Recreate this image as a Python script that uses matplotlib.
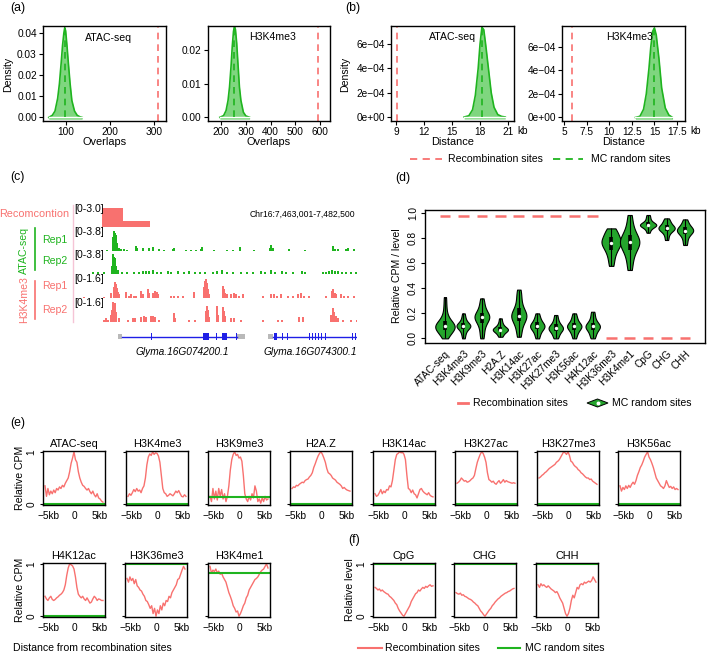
import numpy as np
import matplotlib
matplotlib.use('Agg')
import matplotlib.pyplot as plt
from matplotlib.lines import Line2D
from matplotlib.patches import Polygon, Rectangle

plt.rcParams['font.family'] = ['Liberation Sans', 'DejaVu Sans']
plt.rcParams['font.size'] = 7.6
plt.rcParams['axes.linewidth'] = 1.0

W, H = 709, 656
RED = '#f8716f'
GREEN = '#1fb41f'
LIGHT_GREEN = '#7fd67f'
VIOLIN_GREEN = '#24a52c'
PINK_LINE = '#f5c4d6'
GENE_BLUE = '#1f1fe6'
UTR_GREY = '#b9b9b9'
TXT = 7.6
TICK = 7.3

# ---------------- (a) overlap densities ----------------
a_atac_x = [62, 70, 76, 82, 86, 90, 93, 96, 98, 100, 103, 106, 110, 114, 120, 126, 132, 137]
a_atac_d = [0.0, 0.001, 0.003, 0.009, 0.016, 0.026, 0.034, 0.040, 0.0425, 0.041, 0.034,
            0.026, 0.016, 0.008, 0.003, 0.001, 0.0003, 0.0]
a_atac_mean, a_atac_rec = 98, 307
a_k4_x = [195, 210, 220, 228, 234, 240, 245, 250, 254, 258, 263, 268, 274, 280, 290, 300, 315]
a_k4_d = [0.0, 0.0005, 0.002, 0.005, 0.009, 0.015, 0.021, 0.0255, 0.027, 0.026, 0.022,
          0.016, 0.009, 0.005, 0.0015, 0.0004, 0.0]
a_k4_mean, a_k4_rec = 254, 590

# ---------------- (b) distance densities (kb) ----------------
b_atac_x = [16.3, 16.8, 17.2, 17.5, 17.8, 18.0, 18.2, 18.4, 18.6, 18.9, 19.2, 19.5, 19.9, 20.3, 20.7]
b_atac_d = [0.0, 0.1e-4, 0.6e-4, 1.8e-4, 4.0e-4, 6.0e-4, 7.4e-4, 7.2e-4, 6.0e-4, 4.0e-4,
            2.0e-4, 0.8e-4, 0.2e-4, 0.05e-4, 0.0]
b_atac_mean, b_atac_rec = 18.2, 9.07
b_k4_x = [12.9, 13.4, 13.8, 14.1, 14.4, 14.6, 14.8, 15.0, 15.2, 15.5, 15.8, 16.2, 16.6, 17.0]
b_k4_d = [0.0, 0.1e-4, 0.7e-4, 2.0e-4, 4.2e-4, 6.0e-4, 7.3e-4, 7.6e-4, 7.0e-4, 5.0e-4,
          2.5e-4, 0.8e-4, 0.2e-4, 0.0]
b_k4_mean, b_k4_rec = 14.9, 5.9

# ---------------- (c) genome browser (bins of 19500/284 bp) ----------------
BIN_KB = 19.5 / 284
recomb_start = [29, 50]
recomb_end = [50, 77]
recomb_val = [3.0, 0.95]
atac1_bins = [33, 39, 40, 41, 42, 43, 45, 47, 50, 53, 62, 63, 69, 75, 79, 85, 90, 99, 100, 112,
              117, 122, 127, 128, 140, 153, 159, 166, 180, 196, 197, 199, 215, 231, 259, 261,
              264, 272, 274, 280]
atac1_vals = [0.2, 2.6, 3.8, 3.4, 3.0, 1.5, 0.6, 0.3, 0.3, 0.2, 0.9, 0.5, 0.6, 0.5, 0.7, 0.3,
              0.2, 0.3, 0.6, 0.2, 0.2, 0.2, 0.3, 0.7, 0.2, 0.2, 0.2, 0.7, 0.2, 0.6, 1.1, 0.6,
              0.3, 0.2, 0.9, 0.4, 0.3, 0.3, 0.5, 0.3]
atac2_bins = [19, 24, 30, 38, 39, 40, 41, 42, 44, 48, 53, 60, 65, 69, 72, 75, 79, 83, 87, 94,
              97, 104, 110, 115, 121, 126, 131, 139, 143, 148, 153, 159, 167, 173, 179, 187,
              191, 197, 201, 208, 212, 219, 228, 231, 249, 252, 255, 258, 261, 264, 268, 272,
              277, 282]
atac2_vals = [0.2, 0.2, 0.2, 1.5, 3.8, 3.2, 3.0, 1.5, 0.6, 0.3, 0.2, 0.2, 0.3, 0.5, 0.4, 0.5,
              0.6, 0.3, 0.2, 0.4, 0.3, 0.4, 0.2, 0.4, 0.3, 0.3, 0.2, 0.2, 0.4, 0.7, 0.3, 0.2,
              0.3, 0.3, 0.2, 0.4, 0.2, 0.6, 0.3, 0.5, 0.2, 0.2, 0.4, 0.2, 0.3, 0.3, 0.4, 0.6,
              0.5, 0.4, 0.3, 0.3, 0.2, 0.2]
k4r1_bins = [10, 30, 37, 40, 41, 42, 43, 44, 45, 52, 55, 57, 60, 62, 67, 69, 74, 75, 79, 81,
             83, 84, 97, 100, 104, 109, 120, 130, 131, 132, 133, 134, 135, 149, 150, 151, 153,
             157, 160, 162, 165, 169, 189, 197, 200, 203, 207, 214, 219, 224, 227, 230, 235,
             252, 258, 259, 261, 262, 267, 270, 274, 280, 284]
k4r1_vals = [0.1, 0.1, 0.4, 0.9, 1.3, 1.1, 0.8, 0.5, 0.3, 0.5, 0.2, 0.3, 0.2, 0.2, 0.6, 0.3,
             0.7, 0.4, 0.4, 0.6, 0.5, 0.3, 0.2, 0.2, 0.2, 0.2, 0.5, 0.9, 1.4, 1.5, 1.2, 0.7,
             0.3, 1.0, 0.7, 0.4, 0.3, 0.3, 0.4, 0.3, 0.2, 0.3, 0.2, 0.3, 0.3, 0.2, 0.3, 0.2,
             0.2, 0.3, 0.4, 0.2, 0.2, 0.2, 0.6, 0.7, 0.4, 0.3, 0.3, 0.2, 0.2, 0.2, 0.2]
k4r2_bins = [30, 32, 34, 37, 38, 39, 40, 41, 42, 45, 54, 59, 61, 67, 70, 72, 77, 79, 81, 85,
             100, 101, 115, 121, 132, 133, 134, 135, 143, 144, 149, 150, 151, 157, 160, 167,
             189, 204, 208, 225, 229, 257, 259, 260, 262, 264, 269, 277, 283]
k4r2_vals = [0.2, 0.3, 0.2, 0.6, 1.0, 1.6, 1.2, 1.5, 0.8, 0.3, 0.2, 0.3, 0.3, 0.4, 0.5, 0.4,
             0.5, 0.5, 0.4, 0.2, 0.7, 0.3, 0.2, 0.2, 0.9, 1.3, 1.0, 0.4, 1.3, 0.6, 1.2, 0.9,
             0.5, 0.3, 0.3, 0.2, 0.2, 0.2, 0.2, 0.4, 0.4, 0.6, 1.1, 0.8, 0.5, 0.3, 0.2, 0.2,
             0.2]
# gene models: (start_bin, end_bin)
gene1_utr = [(45, 49), (164, 172)]
gene1_line = (49, 164)
gene1_exons = [(77.5, 78.5), (130, 136), (142.5, 143.5), (149, 154), (162.5, 163.5)]
gene2_utr = [(195, 200)]
gene2_line = (200, 284)
gene2_exons = [(201, 204), (208.5, 209.5), (213.5, 214.5), (235.5, 236.5), (238.5, 239.5),
               (241.5, 242.5), (244.5, 245.5), (247.5, 248.5), (251.5, 252.5), (278.5, 279.5),
               (281.5, 282.5)]

# ---------------- (d) violins ----------------
marks = ['ATAC-seq', 'H3K4me3', 'H3K9me3', 'H2A.Z', 'H3K14ac', 'H3K27ac', 'H3K27me3',
         'H3K56ac', 'H4K12ac', 'H3K36me3', 'H3K4me1', 'CpG', 'CHG', 'CHH']
recomb_level = [0.975, 0.975, 0.975, 0.975, 0.975, 0.975, 0.975, 0.975, 0.975,
                0.0, 0.0, 0.0, 0.0, 0.0]
mc_samples = [
    [0.0, 0.02, 0.04, 0.05, 0.06, 0.07, 0.08, 0.085, 0.09, 0.095, 0.1, 0.105, 0.11, 0.12, 0.13, 0.14, 0.16, 0.18, 0.22, 0.27, 0.33],
    [0.0, 0.03, 0.05, 0.07, 0.08, 0.09, 0.095, 0.1, 0.1, 0.105, 0.11, 0.12, 0.13, 0.15, 0.17, 0.2],
    [0.0, 0.04, 0.08, 0.11, 0.13, 0.15, 0.16, 0.17, 0.17, 0.18, 0.19, 0.2, 0.22, 0.25, 0.28, 0.32],
    [0.013, 0.03, 0.045, 0.055, 0.062, 0.068, 0.07, 0.072, 0.078, 0.085, 0.095, 0.11, 0.13, 0.16],
    [0.013, 0.05, 0.09, 0.12, 0.14, 0.16, 0.17, 0.18, 0.18, 0.19, 0.2, 0.22, 0.24, 0.27, 0.31, 0.35, 0.39],
    [0.0, 0.03, 0.05, 0.07, 0.08, 0.09, 0.095, 0.1, 0.11, 0.12, 0.13, 0.15, 0.17, 0.2],
    [0.0, 0.02, 0.04, 0.055, 0.065, 0.075, 0.08, 0.085, 0.09, 0.1, 0.115, 0.13, 0.155, 0.187],
    [0.0, 0.03, 0.05, 0.065, 0.08, 0.09, 0.095, 0.1, 0.105, 0.115, 0.13, 0.15, 0.17, 0.2],
    [0.0, 0.025, 0.045, 0.065, 0.078, 0.088, 0.093, 0.098, 0.105, 0.115, 0.13, 0.15, 0.18, 0.213],
    [0.58, 0.63, 0.67, 0.7, 0.72, 0.74, 0.755, 0.765, 0.775, 0.785, 0.8, 0.82, 0.84, 0.86, 0.88],
    [0.547, 0.61, 0.66, 0.7, 0.72, 0.745, 0.76, 0.768, 0.78, 0.795, 0.81, 0.84, 0.87, 0.92, 0.987],
    [0.845, 0.87, 0.885, 0.895, 0.9, 0.905, 0.907, 0.91, 0.915, 0.92, 0.93, 0.945, 0.965, 0.987],
    [0.787, 0.82, 0.845, 0.86, 0.87, 0.875, 0.88, 0.885, 0.89, 0.9, 0.91, 0.925, 0.94, 0.96],
    [0.747, 0.78, 0.81, 0.83, 0.845, 0.852, 0.859, 0.865, 0.872, 0.88, 0.89, 0.905, 0.925, 0.952],
]
violin_widths = [1.05, 0.75, 0.8, 0.82, 0.82, 0.78, 0.78, 0.78, 0.78, 1.05, 1.05, 0.88, 0.88, 0.88]

# ---------------- (e)/(f) profiles around sites ----------------
profiles = {
    'ATAC-seq': [0.35, 0.15, 0.3, 0.18, 0.25, 0.2, 0.27, 0.22, 0.3, 0.27, 0.33, 0.3, 0.36, 0.33, 0.4, 0.45, 0.5, 0.62, 0.78, 0.88, 1.0, 0.85, 0.8, 0.62, 0.5, 0.42, 0.36, 0.34, 0.3, 0.27, 0.3, 0.24, 0.2, 0.25, 0.18, 0.14, 0.2, 0.12, 0.1, 0.06, 0.04],
    'H3K4me3': [0.15, 0.2, 0.17, 0.22, 0.28, 0.24, 0.3, 0.25, 0.27, 0.22, 0.3, 0.35, 0.5, 0.75, 0.9, 0.96, 0.93, 1.0, 0.95, 0.98, 0.97, 0.92, 0.8, 0.55, 0.3, 0.22, 0.2, 0.15, 0.17, 0.2, 0.18, 0.16, 0.2, 0.25, 0.22, 0.26, 0.2, 0.15, 0.14, 0.18, 0.15],
    'H3K9me3': [0.15, 0.05, 0.3, 0.1, 0.25, 0.08, 0.3, 0.15, 0.28, 0.1, 0.2, 0.05, 0.15, 0.35, 0.65, 0.85, 0.95, 1.0, 0.93, 0.95, 0.88, 0.9, 0.82, 0.55, 0.2, 0.1, 0.05, 0.15, 0.08, 0.2, 0.12, 0.35, 0.25, 0.05, 0.1, 0.02, 0.12, 0.05, 0.15, 0.08, 0.1],
    'H2A.Z': [0.3, 0.33, 0.32, 0.36, 0.35, 0.38, 0.4, 0.42, 0.41, 0.45, 0.47, 0.48, 0.52, 0.55, 0.6, 0.7, 0.77, 0.85, 0.92, 0.97, 1.0, 0.95, 0.88, 0.8, 0.68, 0.6, 0.58, 0.55, 0.5, 0.48, 0.46, 0.42, 0.4, 0.38, 0.35, 0.3, 0.32, 0.29, 0.27, 0.26, 0.25],
    'H3K14ac': [0.2, 0.15, 0.17, 0.22, 0.28, 0.2, 0.25, 0.22, 0.28, 0.27, 0.35, 0.33, 0.45, 0.65, 0.85, 0.95, 0.97, 1.0, 0.98, 0.99, 0.95, 0.85, 0.55, 0.3, 0.28, 0.22, 0.27, 0.2, 0.18, 0.12, 0.2, 0.28, 0.3, 0.25, 0.22, 0.2, 0.18, 0.22, 0.17, 0.15, 0.14],
    'H3K27ac': [0.4, 0.42, 0.45, 0.5, 0.47, 0.44, 0.45, 0.42, 0.43, 0.45, 0.48, 0.5, 0.55, 0.68, 0.8, 0.88, 0.95, 1.0, 0.97, 0.9, 0.8, 0.6, 0.47, 0.45, 0.42, 0.44, 0.4, 0.38, 0.42, 0.45, 0.4, 0.43, 0.47, 0.42, 0.45, 0.43, 0.42, 0.41, 0.4, 0.41, 0.4],
    'H3K27me3': [0.5, 0.52, 0.55, 0.57, 0.6, 0.62, 0.65, 0.68, 0.7, 0.72, 0.74, 0.76, 0.8, 0.82, 0.85, 0.9, 0.95, 1.0, 0.98, 0.95, 1.0, 0.93, 0.82, 0.8, 0.75, 0.72, 0.7, 0.66, 0.64, 0.6, 0.58, 0.55, 0.52, 0.5, 0.5, 0.47, 0.48, 0.44, 0.42, 0.4, 0.38],
    'H3K56ac': [0.35, 0.25, 0.32, 0.28, 0.35, 0.3, 0.36, 0.32, 0.38, 0.42, 0.38, 0.45, 0.55, 0.62, 0.7, 0.75, 0.82, 0.9, 0.95, 1.0, 0.9, 0.85, 0.78, 0.7, 0.6, 0.5, 0.45, 0.4, 0.35, 0.33, 0.3, 0.35, 0.45, 0.38, 0.32, 0.34, 0.3, 0.33, 0.28, 0.3, 0.28],
    'H4K12ac': [0.38, 0.33, 0.3, 0.35, 0.38, 0.32, 0.3, 0.32, 0.35, 0.37, 0.4, 0.42, 0.45, 0.5, 0.6, 0.78, 0.92, 1.0, 0.98, 0.96, 0.9, 0.75, 0.55, 0.42, 0.38, 0.35, 0.38, 0.33, 0.3, 0.35, 0.3, 0.25, 0.27, 0.33, 0.38, 0.35, 0.3, 0.33, 0.32, 0.3, 0.3],
    'H3K36me3': [0.72, 0.65, 0.75, 0.68, 0.72, 0.62, 0.7, 0.58, 0.55, 0.5, 0.48, 0.42, 0.38, 0.3, 0.28, 0.22, 0.15, 0.2, 0.05, 0.15, 0.0, 0.12, 0.05, 0.2, 0.12, 0.25, 0.2, 0.3, 0.28, 0.38, 0.35, 0.45, 0.5, 0.55, 0.6, 0.7, 0.72, 0.8, 0.88, 0.95, 0.9],
    'H3K4me1': [0.95, 0.82, 0.88, 0.85, 0.9, 0.83, 0.86, 0.8, 0.82, 0.75, 0.7, 0.65, 0.55, 0.45, 0.38, 0.3, 0.2, 0.15, 0.08, 0.1, 0.0, 0.05, 0.12, 0.2, 0.25, 0.35, 0.4, 0.5, 0.55, 0.6, 0.65, 0.7, 0.72, 0.75, 0.8, 0.85, 0.88, 0.9, 0.95, 1.0, 0.92],
    'CpG': [0.55, 0.53, 0.5, 0.52, 0.48, 0.5, 0.47, 0.45, 0.43, 0.42, 0.38, 0.36, 0.33, 0.3, 0.25, 0.22, 0.15, 0.1, 0.06, 0.02, 0.0, 0.05, 0.1, 0.15, 0.2, 0.28, 0.33, 0.38, 0.43, 0.45, 0.5, 0.48, 0.52, 0.55, 0.53, 0.57, 0.55, 0.58, 0.6, 0.57, 0.58],
    'CHG': [0.45, 0.43, 0.42, 0.44, 0.4, 0.41, 0.38, 0.37, 0.35, 0.33, 0.32, 0.3, 0.27, 0.25, 0.22, 0.2, 0.15, 0.1, 0.07, 0.03, 0.0, 0.04, 0.08, 0.12, 0.15, 0.2, 0.23, 0.27, 0.3, 0.33, 0.35, 0.38, 0.4, 0.42, 0.44, 0.45, 0.47, 0.48, 0.5, 0.52, 0.53],
    'CHH': [0.6, 0.55, 0.62, 0.58, 0.6, 0.57, 0.55, 0.58, 0.55, 0.52, 0.5, 0.48, 0.45, 0.47, 0.42, 0.35, 0.3, 0.25, 0.15, 0.05, 0.0, 0.05, 0.15, 0.3, 0.4, 0.35, 0.45, 0.55, 0.52, 0.6, 0.62, 0.6, 0.65, 0.63, 0.65, 0.67, 0.65, 0.68, 0.75, 0.7, 0.65],
}
random_level = {'ATAC-seq': 0.0, 'H3K4me3': 0.0, 'H3K9me3': 0.13, 'H2A.Z': 0.0, 'H3K14ac': 0.0,
                'H3K27ac': 0.0, 'H3K27me3': 0.0, 'H3K56ac': 0.0, 'H4K12ac': 0.0,
                'H3K36me3': 0.99, 'H3K4me1': 0.82, 'CpG': 1.0, 'CHG': 1.0, 'CHH': 1.0}
row1 = ['ATAC-seq', 'H3K4me3', 'H3K9me3', 'H2A.Z', 'H3K14ac', 'H3K27ac', 'H3K27me3', 'H3K56ac']
row2 = ['H4K12ac', 'H3K36me3', 'H3K4me1']
row_f = ['CpG', 'CHG', 'CHH']


fig = plt.figure(figsize=(W / 100, H / 100), dpi=100)


def px_axes(l, t, r, b):
    return fig.add_axes([l / W, 1 - b / H, (r - l) / W, (b - t) / H])


def ftext(x, y, s, **kw):
    kw.setdefault('va', 'center')
    kw.setdefault('fontsize', TXT)
    return fig.text(x / W, 1 - y / H, s, **kw)


def fline(x0, x1, y0, y1, **kw):
    fig.add_artist(Line2D([x0 / W, x1 / W], [1 - y0 / H, 1 - y1 / H], **kw))


def density_panel(ax, x, d, mean, rec, xlim, ylim, xticks, xlabels, yticks, ylabels):
    ax.fill_between(x, d, ylim[0] * 0.5, color=LIGHT_GREEN, lw=0)
    ax.plot(x, d, color=GREEN, lw=1.2)
    ax.plot([x[0] + 1e-9, x[-1]], [0, 0], color='white', lw=1.0)
    ax.plot([mean, mean], [0, max(d)], color=GREEN, lw=1.2, ls=(0, (4, 3)))
    ax.axvline(rec, color=RED, lw=1.2, ls=(0, (4, 3)))
    ax.set_xlim(xlim)
    ax.set_ylim(ylim)
    ax.set_xticks(xticks)
    ax.set_xticklabels(xlabels)
    ax.set_yticks(yticks)
    ax.set_yticklabels(ylabels)
    ax.tick_params(length=3, width=0.8, pad=1.5, labelsize=TICK)


# (a)
ftext(10, 8, '(a)', fontsize=8.8)
ax = px_axes(43, 26, 166, 121)
density_panel(ax, a_atac_x, a_atac_d, a_atac_mean, a_atac_rec, (49, 326), (-0.0017, 0.0433),
              [100, 200, 300], ['100', '200', '300'], [0, 0.01, 0.02, 0.03, 0.04],
              ['0.00', '0.01', '0.02', '0.03', '0.04'])
ax.set_xlabel('Overlaps', fontsize=TXT + 0.3, labelpad=0)
ftext(108, 38, 'ATAC-seq', ha='center')
ax = px_axes(208, 26, 330, 121)
density_panel(ax, a_k4_x, a_k4_d, a_k4_mean, a_k4_rec, (147, 640), (-0.0011, 0.0271),
              [200, 300, 400, 500, 600], ['200', '300', '400', '500', '600'], [0, 0.01, 0.02],
              ['0.00', '0.01', '0.02'])
ax.set_xlabel('Overlaps', fontsize=TXT + 0.3, labelpad=0)
ftext(273, 37, 'H3K4me3', ha='center')
ftext(8, 74, 'Density', rotation=90, ha='center')

# (b)
ftext(345, 8, '(b)', fontsize=8.8)
b_yt = [0, 2e-4, 4e-4, 6e-4]
b_yl = ['0e+00', '2e\u221204', '4e\u221204', '6e\u221204']
ax = px_axes(391, 26, 514, 121)
density_panel(ax, b_atac_x, b_atac_d, b_atac_mean, b_atac_rec, (8.46, 21.64), (-0.33e-4, 7.5e-4),
              [9, 12, 15, 18, 21], ['9', '12', '15', '18', '21'], b_yt, b_yl)
ax.set_xlabel('Distance', fontsize=TXT + 0.3, labelpad=0)
ftext(452, 37, 'ATAC-seq', ha='center')
ftext(517, 131, 'kb', fontsize=TICK)
ax = px_axes(562, 26, 685, 121)
density_panel(ax, b_k4_x, b_k4_d, b_k4_mean, b_k4_rec, (4.78, 18.38), (-0.3e-4, 7.76e-4),
              [5, 7.5, 10, 12.5, 15, 17.5], ['5', '7.5', '10', '12.5', '15', '17.5'], b_yt, b_yl)
ax.set_xlabel('Distance', fontsize=TXT + 0.3, labelpad=0)
ftext(630, 37, 'H3K4me3', ha='center')
ftext(690, 131, 'kb', fontsize=TICK)
ftext(345, 74, 'Density', rotation=90, ha='center')
fline(410, 442, 159, 159, color=RED, lw=1.3, ls=(0, (4, 3)))
ftext(448, 159, 'Recombination sites')
fline(553, 583, 159, 159, color=GREEN, lw=1.3, ls=(0, (4, 3)))
ftext(591, 159, 'MC random sites')

# (c)
ftext(10, 177, '(c)', fontsize=8.8)
TRK_L, TRK_R = 73, 357
track_specs = [
    (208, 227, 3.0, '[0-3.0]', None, None, RED),
    (231, 251, 3.8, '[0-3.8]', atac1_bins, atac1_vals, GREEN),
    (254, 273.5, 3.8, '[0-3.8]', atac2_bins, atac2_vals, GREEN),
    (278, 298, 1.6, '[0-1.6]', k4r1_bins, k4r1_vals, RED),
    (302, 322, 1.6, '[0-1.6]', k4r2_bins, k4r2_vals, RED),
]
for top, bot, ymax, lab, bins, vals, col in track_specs:
    ax = px_axes(TRK_L, top, TRK_R, bot)
    if bins is None:
        for s, e, v in zip(recomb_start, recomb_end, recomb_val):
            ax.add_patch(Rectangle((s * BIN_KB, 0), (e - s) * BIN_KB, v, color=col, lw=0))
    else:
        ax.bar(np.array(bins) * BIN_KB, vals, width=1.6 * BIN_KB, align='edge', color=col, lw=0)
    ax.set_xlim(0, 284 * BIN_KB)
    ax.set_ylim(0, ymax)
    ax.axis('off')
    ftext(74, top + 1, lab)
fline(73, 73, 205, 322, color=PINK_LINE, lw=1)
ftext(69, 214, 'Recomcontion', ha='right', color=RED, fontsize=7.8)
ftext(250, 214, 'Chr16:7,463,001-7,482,500', fontsize=6.2)
ftext(24, 250, 'ATAC-seq', rotation=90, ha='center', color=GREEN)
fline(35, 35, 228, 270, color=GREEN, lw=1.2)
ftext(42, 240, 'Rep1', color=GREEN)
ftext(42, 261, 'Rep2', color=GREEN)
ftext(24, 300, 'H3K4me3', rotation=90, ha='center', color=RED)
fline(35, 35, 281, 319, color=RED, lw=1.2)
ftext(42, 286, 'Rep1', color=RED)
ftext(42, 310, 'Rep2', color=RED)

ax = px_axes(TRK_L, 328, TRK_R, 345)
for line, utrs, exons in [(gene1_line, gene1_utr, gene1_exons), (gene2_line, gene2_utr, gene2_exons)]:
    ax.plot([line[0] * BIN_KB, line[1] * BIN_KB], [0, 0], color=GENE_BLUE, lw=1)
    for s, e in utrs:
        ax.add_patch(Rectangle((s * BIN_KB, -0.25), (e - s) * BIN_KB, 0.5, color=UTR_GREY, lw=0))
    for s, e in exons:
        ax.add_patch(Rectangle((s * BIN_KB, -0.38), (e - s) * BIN_KB, 0.76, color=GENE_BLUE, lw=0))
ax.set_xlim(0, 284 * BIN_KB)
ax.set_ylim(-1, 1)
ax.axis('off')
ftext(182, 352, 'Glyma.16G074200.1', ha='center', style='italic', fontsize=7.3)
ftext(310, 352, 'Glyma.16G074300.1', ha='center', style='italic', fontsize=7.3)

# (d)
ftext(395, 178, '(d)', fontsize=8.8)
ax = px_axes(425, 210, 705, 343)
pos = np.arange(1, len(marks) + 1)
vp = ax.violinplot(mc_samples, positions=pos, widths=violin_widths, showextrema=False,
                   bw_method=0.45)
for body in vp['bodies']:
    body.set_facecolor(VIOLIN_GREEN)
    body.set_edgecolor('black')
    body.set_linewidth(0.8)
    body.set_alpha(1)
for p, s in zip(pos, mc_samples):
    q1, med, q3 = np.percentile(s, [25, 50, 75])
    ax.vlines(p, min(s), max(s), color='black', lw=0.8, zorder=3)
    ax.vlines(p, q1, q3, color='black', lw=2.6, zorder=3)
    ax.scatter([p], [med], s=6, color='white', zorder=4, lw=0)
for p, lv in zip(pos, recomb_level):
    ax.plot([p - 0.29, p + 0.29], [lv, lv], color=RED, lw=1.8, solid_capstyle='butt')
ax.set_xlim(-0.08, 15.08)
ax.set_ylim(-0.037, 1.027)
ax.set_yticks([0, 0.2, 0.4, 0.6, 0.8, 1.0])
ax.set_yticklabels(['0.0', '0.2', '0.4', '0.6', '0.8', '1.0'], rotation=90, va='center')
ax.set_xticks(pos)
ax.set_xticklabels(marks, rotation=45, ha='right', rotation_mode='anchor', fontsize=TICK)
ax.tick_params(axis='x', length=0, pad=4)
ax.tick_params(axis='y', length=3, width=0.8, pad=2, labelsize=TICK)
ftext(397, 276, 'Relative CPM / level', rotation=90, ha='center')
fline(458, 468, 403, 403, color=RED, lw=2)
ftext(473, 403, 'Recombination sites')
fig.add_artist(Polygon([[587 / W, 1 - 403 / H], [597.5 / W, 1 - 399 / H], [608 / W, 1 - 403 / H],
                        [597.5 / W, 1 - 407 / H]], closed=True, facecolor=VIOLIN_GREEN,
                       edgecolor='black', lw=0.7, transform=fig.transFigure))
fig.add_artist(Line2D([597.5 / W], [1 - 403 / H], marker='o', ms=1.8, color='white', lw=0))
ftext(612, 403, 'MC random sites')


# (e)/(f)
def profile_panel(ax, name, show_ylabels):
    vals = profiles[name]
    x = np.linspace(-5.7, 5.7, len(vals))
    ax.plot(x, vals, color=RED, lw=1.0)
    ax.axhline(random_level[name], xmin=0.02, xmax=0.98, color=GREEN, lw=1.5)
    ax.set_xlim(-6.1, 6.1)
    ax.set_ylim(-0.015, 1.015)
    ax.set_xticks([-5, 0, 5])
    ax.set_xticklabels(['\u22125kb', '0', '5kb'])
    ax.set_yticks([0, 1])
    if show_ylabels:
        ax.set_yticklabels(['0', '1'], rotation=90, va='center')
    else:
        ax.set_yticklabels([])
    ax.tick_params(axis='x', length=0, pad=4, labelsize=TICK)
    ax.tick_params(axis='y', length=2.5, width=0.8, pad=2, labelsize=TICK)
    ax.set_title(name, fontsize=TXT + 0.2, pad=3)


ftext(10, 423, '(e)', fontsize=8.8)
for i, (name, left) in enumerate(zip(row1, [43, 126, 208, 290, 373, 455, 537, 618])):
    profile_panel(px_axes(left, 451, left + 62, 505), name, i == 0)
for i, (name, left) in enumerate(zip(row2, [43, 125, 208])):
    profile_panel(px_axes(left, 563, left + 62, 617), name, i == 0)
ftext(20, 478, 'Relative CPM', rotation=90, ha='center')
ftext(20, 590, 'Relative CPM', rotation=90, ha='center')
ftext(13, 648, 'Distance from recombination sites')

ftext(348, 540, '(f)', fontsize=8.8)
for i, (name, left) in enumerate(zip(row_f, [373, 454, 536])):
    profile_panel(px_axes(left, 563, left + 62, 617), name, i == 0)
ftext(350, 590, 'Relative level', rotation=90, ha='center')
fline(358, 382, 648, 648, color=RED, lw=1.5)
ftext(385, 648, 'Recombination sites')
fline(498, 520, 648, 648, color=GREEN, lw=1.5)
ftext(525, 648, 'MC random sites')

fig.savefig('out.png', dpi=100)
